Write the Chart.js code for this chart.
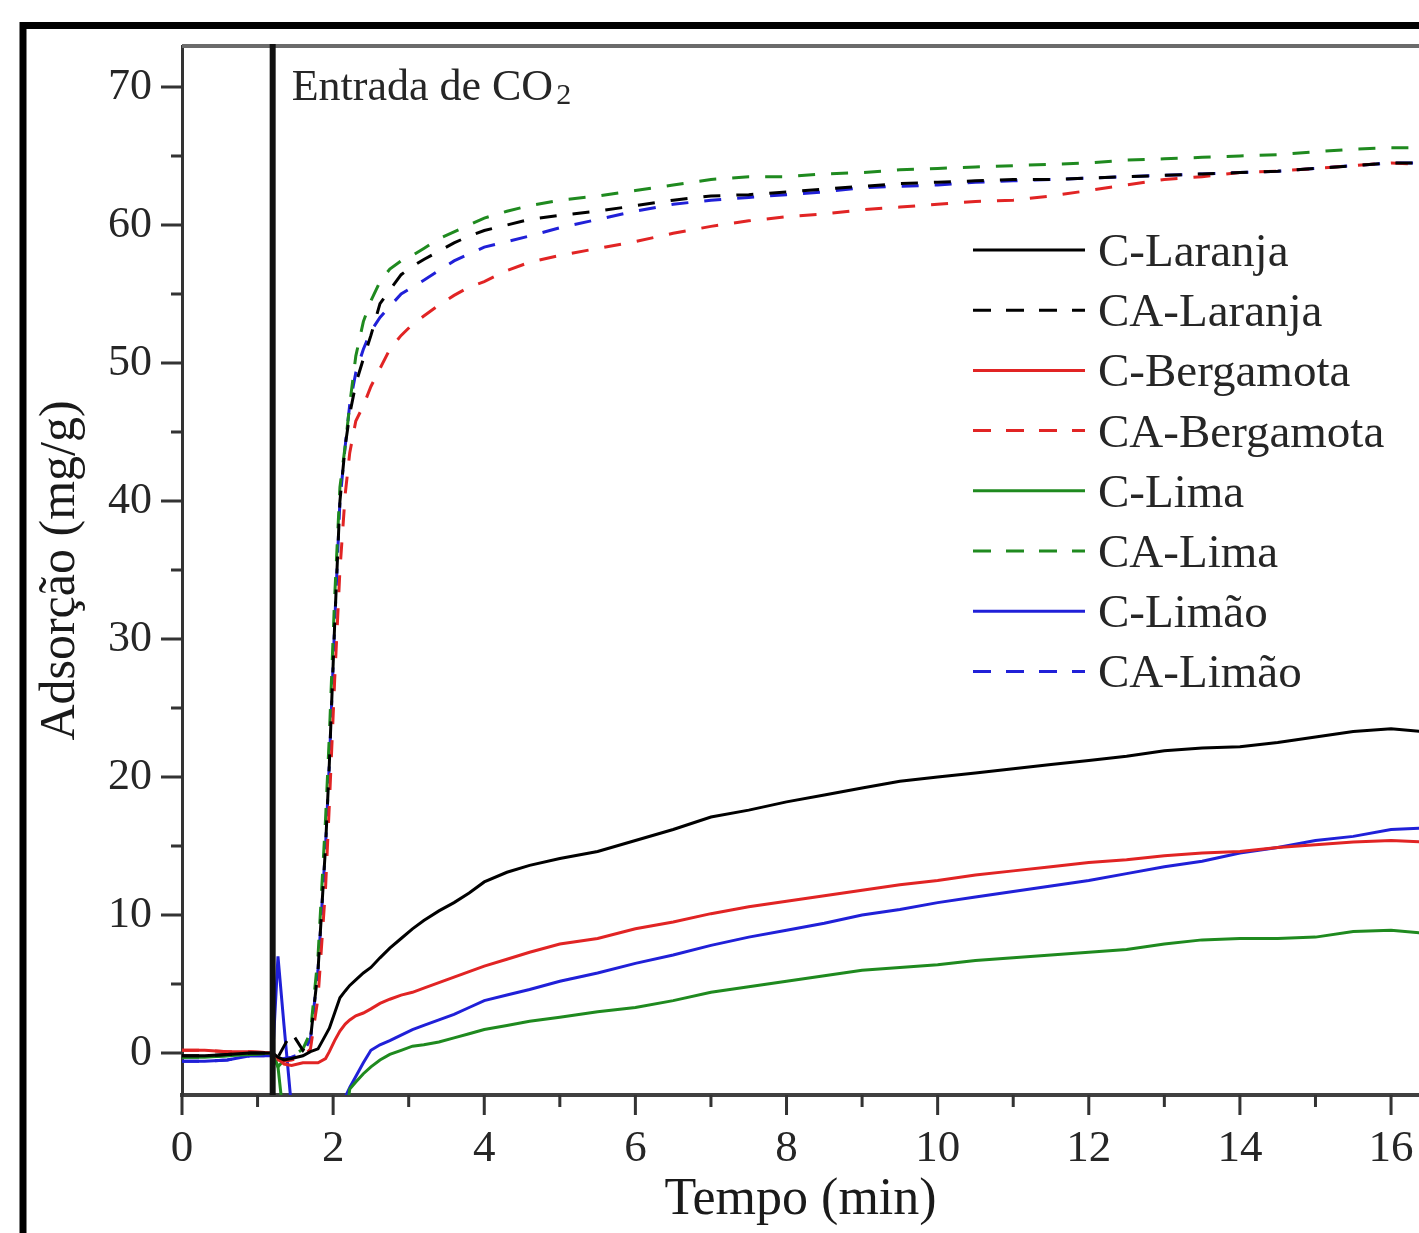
<!DOCTYPE html>
<html>
<head>
<meta charset="utf-8">
<script src="https://cdn.jsdelivr.net/npm/chart.js@4.4.1/dist/chart.umd.min.js"></script>
<style>
  html, body { margin: 0; padding: 0; background: #fff; }
  canvas { display: block; }
</style>
</head>
<body>
<canvas id="grafico" width="1419" height="1233"></canvas>
<script>
// tempo (min)
const tempo = [0, 0.3, 0.6, 0.9, 1.2, 1.27, 1.35, 1.45, 1.6, 1.7,
  1.8, 1.9, 1.95, 2.02, 2.09, 2.16, 2.22, 2.3, 2.4, 2.5,
  2.62, 2.75, 2.9, 3.05, 3.2, 3.4, 3.6, 3.8, 4.0, 4.3,
  4.6, 5, 5.5, 6, 6.5, 7, 7.5, 8, 8.5, 9,
  9.5, 10, 10.5, 11, 11.5, 12, 12.5, 13, 13.5, 14,
  14.5, 15, 15.5, 16, 16.4];

// adsorcao (mg/g) - carvoes
const cLaranja = [-0.2, -0.2, -0.1, 0, 0, -0.3, -0.5, -0.4, -0.2, 0.1,
  0.3, 1.3, 1.8, 2.9, 4.0, 4.5, 4.9, 5.3, 5.8, 6.2,
  6.9, 7.6, 8.3, 9.0, 9.6, 10.3, 10.9, 11.6, 12.4, 13.1,
  13.6, 14.1, 14.6, 15.4, 16.2, 17.1, 17.6, 18.2, 18.7, 19.2,
  19.7, 20.0, 20.3, 20.6, 20.9, 21.2, 21.5, 21.9, 22.1, 22.2,
  22.5, 22.9, 23.3, 23.5, 23.3];
const cBergamota = [0.2, 0.2, 0.1, 0.1, 0, -0.4, -0.8, -0.9, -0.7, -0.7,
  -0.7, -0.4, 0.1, 0.9, 1.6, 2.1, 2.4, 2.7, 2.9, 3.2,
  3.6, 3.9, 4.2, 4.4, 4.7, 5.1, 5.5, 5.9, 6.3, 6.8,
  7.3, 7.9, 8.3, 9.0, 9.5, 10.1, 10.6, 11.0, 11.4, 11.8,
  12.2, 12.5, 12.9, 13.2, 13.5, 13.8, 14.0, 14.3, 14.5, 14.6,
  14.9, 15.1, 15.3, 15.4, 15.3];
const cLima = [-0.3, -0.3, -0.2, -0.1, 0, -1.0, -5.0, -8, -8, -8,
  -8, -8, -8, -8, -7, -5, -2.6, -2.1, -1.5, -1.0,
  -0.5, -0.1, 0.2, 0.5, 0.6, 0.8, 1.1, 1.4, 1.7, 2.0,
  2.3, 2.6, 3.0, 3.3, 3.8, 4.4, 4.8, 5.2, 5.6, 6.0,
  6.2, 6.4, 6.7, 6.9, 7.1, 7.3, 7.5, 7.9, 8.2, 8.3,
  8.3, 8.4, 8.8, 8.9, 8.7];
const cLimao = [-0.6, -0.6, -0.5, -0.2, -0.2, 7.0, 2.0, -4.0, -8, -8,
  -8, -8, -8, -8, -5, -3.2, -2.5, -1.7, -0.7, 0.2,
  0.6, 0.9, 1.3, 1.7, 2.0, 2.4, 2.8, 3.3, 3.8, 4.2,
  4.6, 5.2, 5.8, 6.5, 7.1, 7.8, 8.4, 8.9, 9.4, 10.0,
  10.4, 10.9, 11.3, 11.7, 12.1, 12.5, 13.0, 13.5, 13.9, 14.5,
  14.9, 15.4, 15.7, 16.2, 16.3];

// carvoes ativados
const caLaranja = [-0.2, -0.2, -0.1, 0, 0, -0.3, 0.5, 1.5, 0.2, 1.0,
  6, 15, 21, 31, 40, 44, 46.3, 48.5, 50.3, 52.0,
  54.3, 55.3, 56.4, 57.0, 57.5, 58.1, 58.7, 59.2, 59.6, 60.0,
  60.4, 60.7, 61.0, 61.4, 61.8, 62.1, 62.2, 62.4, 62.6, 62.8,
  63.0, 63.1, 63.2, 63.3, 63.3, 63.4, 63.5, 63.6, 63.7, 63.8,
  63.9, 64.1, 64.3, 64.5, 64.5];
const caBergamota = [0.2, 0.2, 0.1, 0.1, 0, -0.5, -0.6, -0.5, -0.3, 0.3,
  4, 12, 18, 27, 35, 40.5, 43.5, 45.8, 46.9, 48.3,
  49.6, 51.0, 52.0, 52.8, 53.4, 54.2, 54.9, 55.5, 55.9, 56.7,
  57.3, 57.8, 58.3, 58.8, 59.4, 59.9, 60.3, 60.6, 60.8, 61.1,
  61.3, 61.5, 61.7, 61.8, 62.1, 62.5, 62.9, 63.3, 63.5, 63.8,
  63.9, 64.1, 64.3, 64.5, 64.4];
const caLima = [-0.3, -0.3, -0.2, -0.1, 0, -1.0, -0.5, -0.3, 0.3, 1.5,
  7, 17, 23, 33, 41, 44, 47, 50.5, 53.0, 54.5,
  55.9, 56.8, 57.4, 57.8, 58.3, 59.0, 59.5, 60.0, 60.5, 61.0,
  61.4, 61.8, 62.1, 62.5, 62.9, 63.3, 63.5, 63.5, 63.7, 63.8,
  64.0, 64.1, 64.2, 64.3, 64.4, 64.5, 64.7, 64.8, 64.9, 65.0,
  65.1, 65.3, 65.5, 65.6, 65.6];
const caLimao = [-0.6, -0.6, -0.5, -0.2, -0.2, -0.5, -0.4, -0.3, 0, 1.0,
  6, 15, 21, 31, 40, 44, 47, 49.3, 51.0, 52.3,
  53.3, 54.1, 55.0, 55.5, 56.0, 56.7, 57.4, 57.9, 58.4, 58.8,
  59.2, 59.8, 60.4, 61.0, 61.5, 61.8, 62.0, 62.2, 62.4, 62.7,
  62.8, 62.9, 63.1, 63.2, 63.3, 63.4, 63.5, 63.6, 63.7, 63.8,
  63.9, 64.1, 64.3, 64.5, 64.5];

const nomes = ["C-Laranja", "CA-Laranja", "C-Bergamota", "CA-Bergamota", "C-Lima", "CA-Lima", "C-Limão", "CA-Limão"];

// eixos
const xMarcas = [0, 2, 4, 6, 8, 10, 12, 14, 16];
const xMenores = [1, 3, 5, 7, 9, 11, 13, 15];
const yMarcas = [0, 10, 20, 30, 40, 50, 60, 70];
const yMenores = [5, 15, 25, 35, 45, 55, 65];
const entradaCO2 = 1.2;

const preto = "#000000";
const vermelho = "#e12424";
const verde = "#1f8a1f";
const azul = "#2020d8";
const tracejado = [17, 16];

function pares(ys) {
  return tempo.map((t, i) => ({ x: t, y: ys[i] }));
}

function serie(nome, ys, cor, dash) {
  return {
    label: nome,
    data: pares(ys),
    borderColor: cor,
    backgroundColor: cor,
    borderWidth: 3,
    borderDash: dash,
    pointRadius: 0,
    tension: 0,
    clip: 0
  };
}

const fonte = '"Liberation Serif", "Times New Roman", serif';
const corTexto = "#262626";

// sem folgas extras do chart.js em volta da area
function semFolga(s) {
  s.paddingTop = 0;
  s.paddingBottom = 0;
  s.paddingLeft = 0;
  s.paddingRight = 0;
}

// moldura, linha de entrada, ticks e legenda
const extras = {
  id: "extras",
  beforeDraw(chart) {
    const c = chart.ctx;
    c.save();
    c.strokeStyle = "#000";
    c.lineWidth = 7;
    c.beginPath();
    c.moveTo(23, 1240);
    c.lineTo(23, 25.5);
    c.lineTo(1430, 25.5);
    c.stroke();
    c.restore();
  },
  afterDatasetsDraw(chart) {
    const c = chart.ctx;
    const a = chart.chartArea;
    const sx = chart.scales.x;
    const sy = chart.scales.y;
    c.save();
    // eixo superior
    c.strokeStyle = "#6b6b6b";
    c.lineWidth = 4;
    c.beginPath();
    c.moveTo(a.left, a.top);
    c.lineTo(a.right + 5, a.top);
    c.stroke();

    // ticks
    c.strokeStyle = "#333";
    c.lineWidth = 3;
    c.beginPath();
    xMarcas.forEach(v => { const p = sx.getPixelForValue(v); c.moveTo(p, a.bottom); c.lineTo(p, a.bottom + 20); });
    xMenores.forEach(v => { const p = sx.getPixelForValue(v); c.moveTo(p, a.bottom); c.lineTo(p, a.bottom + 12); });
    yMarcas.forEach(v => { const p = sy.getPixelForValue(v); c.moveTo(a.left, p); c.lineTo(a.left - 21, p); });
    yMenores.forEach(v => { const p = sy.getPixelForValue(v); c.moveTo(a.left, p); c.lineTo(a.left - 11, p); });
    c.stroke();

    // linha de entrada de CO2
    const xe = sx.getPixelForValue(entradaCO2);
    c.strokeStyle = "#111";
    c.lineWidth = 6;
    c.beginPath();
    c.moveTo(xe, a.top - 2);
    c.lineTo(xe, a.bottom);
    c.stroke();

    c.fillStyle = corTexto;
    c.textBaseline = "alphabetic";
    c.font = "44px " + fonte;
    const txt = "Entrada de CO";
    c.fillText(txt, xe + 19, 100);
    const w = c.measureText(txt).width;
    c.font = "30px " + fonte;
    c.fillText("2", xe + 19 + w + 3, 104);
    c.restore();
  },
  afterDraw(chart) {
    const c = chart.ctx;
    c.save();
    chart.data.datasets.forEach((ds, i) => {
      const y = 250 + i * 60.2;
      c.strokeStyle = ds.borderColor;
      c.lineWidth = 3;
      c.setLineDash(ds.borderDash.length ? [18, 15] : []);
      c.beginPath();
      c.moveTo(973, y);
      c.lineTo(1085, y);
      c.stroke();
      c.setLineDash([]);
      c.fillStyle = corTexto;
      c.font = "47px " + fonte;
      c.textBaseline = "alphabetic";
      c.fillText(ds.label, 1098, y + 16);
    });
    c.restore();
  }
};

const ctx = document.getElementById("grafico");
new Chart(ctx, {
  type: "line",
  data: {
    datasets: [
      serie(nomes[0], cLaranja, preto, []),
      serie(nomes[1], caLaranja, preto, tracejado),
      serie(nomes[2], cBergamota, vermelho, []),
      serie(nomes[3], caBergamota, vermelho, tracejado),
      serie(nomes[4], cLima, verde, []),
      serie(nomes[5], caLima, verde, tracejado),
      serie(nomes[6], cLimao, azul, []),
      serie(nomes[7], caLimao, azul, tracejado)
    ]
  },
  options: {
    responsive: false,
    animation: false,
    devicePixelRatio: 1,
    layout: { padding: { top: 46, left: 0, right: 0, bottom: 0 } },
    plugins: { legend: { display: false }, tooltip: { enabled: false } },
    scales: {
      x: {
        type: "linear",
        min: 0,
        max: 16.37,
        afterBuildTicks: s => { s.ticks = xMarcas.map(v => ({ value: v })); },
        afterFit: s => { s.height = 138; semFolga(s); },
        grid: { drawOnChartArea: false, drawTicks: false },
        border: { color: "#404040", width: 4 },
        ticks: { font: { family: fonte, size: 45 }, color: corTexto, padding: 27, maxRotation: 0, autoSkip: false },
        title: { display: true, text: "Tempo (min)", font: { family: fonte, size: 52 }, color: "#1a1a1a", padding: { top: 0, bottom: 1 } }
      },
      y: {
        type: "linear",
        min: -3.04,
        max: 72.97,
        afterBuildTicks: s => { s.ticks = yMarcas.map(v => ({ value: v })); },
        afterFit: s => { s.width = 182; semFolga(s); },
        grid: { drawOnChartArea: false, drawTicks: false },
        border: { color: "#333333", width: 3 },
        ticks: { font: { family: fonte, size: 44 }, color: corTexto, padding: 30 },
        title: { display: true, text: "Adsorção (mg/g)", font: { family: fonte, size: 50 }, color: "#1a1a1a", padding: { top: 31, bottom: 0 } }
      }
    }
  },
  plugins: [extras]
});
</script>
</body>
</html>
